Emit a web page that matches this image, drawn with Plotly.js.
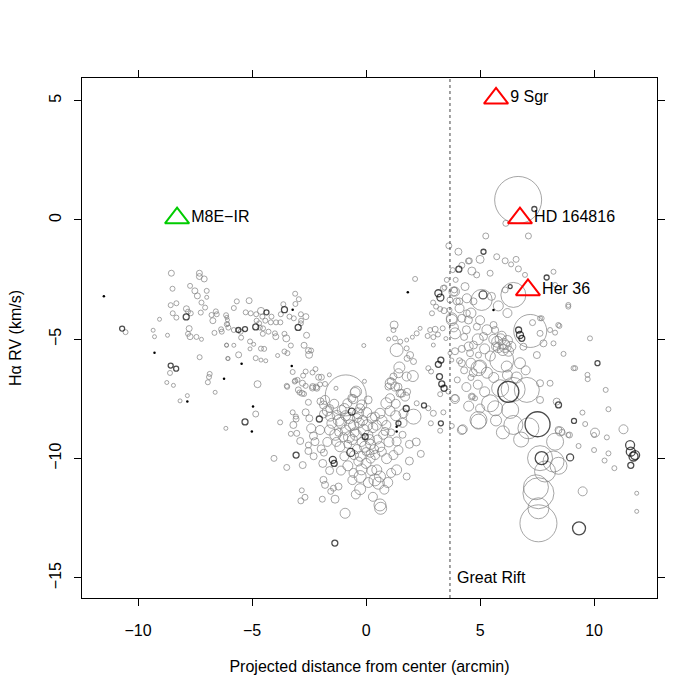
<!DOCTYPE html>
<html><head><meta charset="utf-8">
<script src="https://cdn.plot.ly/plotly-3.0.1.min.js"></script>
<style>body{margin:0;background:#fff}#plot{width:700px;height:700px}</style>
</head><body><div id="plot"></div>
<script>
// [x (arcmin), Hα RV (km/s), amplitude]
const grayPts = [
[-10.55,-4.7,4],
[-8.54,-2.23,5],[-7.31,-2.23,5],[-7.31,-2.37,5],[-7.1,-2.47,5],
[-8.49,-2.88,4],[-7.72,-2.76,4],[-7.51,-2.97,5],[-7.4,-3.18,5],[-6.99,-2.97,4],[-6.99,-3.24,3],
[-7.22,-3.46,4],[-7.06,-3.67,4],[-8.57,-3.57,4],[-8.32,-3.49,4],
[-8.48,-3.91,4],[-8.32,-4.09,4],[-7.88,-3.72,5],[-7.81,-3.84,4],[-7.69,-3.91,4],[-7.25,-3.88,4],
[-6.78,-3.98,4],[-6.59,-3.83,4],[-6.55,-3.95,4],[-6.72,-4.22,5],
[-6.14,-3.99,4],[-6.08,-4.19,3],[-6.11,-4.37,4],[-6.04,-4.51,4],
[-6.36,-4.58,4],[-6.33,-4.68,4],[-6.65,-4.73,4],
[-9.06,-4.16,3],[-9.34,-4.62,3],[-9.28,-4.89,3],[-8.71,-4.83,3],
[-7.76,-4.55,5],[-7.81,-4.77,4],[-7.72,-4.89,5],[-7.44,-4.9,4],[-7.22,-5.0,3],
[-6.12,-5.24,3],[-6.07,-5.8,3],[-7.3,-5.75,4],
[-8.6,-6.41,4],[-8.74,-6.81,3],[-8.45,-6.93,3],
[-6.86,-6.45,4],[-6.89,-6.58,4],[-6.94,-6.8,4],
[-6.62,-7.22,3],[-7.84,-7.36,3],[-8.16,-7.58,3],
[-3.11,-3.09,4],[-2.95,-3.32,4],[-3.1,-3.52,4],
[-5.67,-3.41,4],[-5.13,-3.38,5],[-5.8,-3.69,4],[-3.63,-3.53,4],
[-5.28,-3.87,4],[-5.06,-3.91,4],[-4.82,-3.95,4],[-4.61,-3.81,6],[-4.55,-4.05,4],
[-4.15,-4.05,4],[-3.74,-3.95,4],[-3.36,-4.05,4],[-3.17,-4.12,4],
[-2.86,-3.95,4],[-2.64,-4.05,5],[-2.85,-4.22,4],[-2.86,-4.33,4],
[-4.8,-4.22,4],[-4.69,-4.33,4],[-4.42,-4.22,4],[-4.18,-4.29,4],[-3.95,-4.29,4],[-3.76,-4.29,4],
[-6.11,-4.08,3],[-6.07,-4.36,3],[-4.66,-4.51,4],[-4.52,-4.54,4],
[-5.8,-4.61,4],[-5.5,-4.68,4],
[-4.28,-4.68,4],[-4.0,-4.75,4],[-3.96,-4.89,5],[-3.58,-4.77,4],[-3.5,-4.96,6],
[-2.61,-4.83,5],[-4.53,-4.77,4],
[-5.48,-4.93,4],[-5.09,-5.09,4],[-4.93,-5.21,3],
[-3.3,-5.26,4],[-2.72,-5.25,5],
[-2.53,-5.47,5],[-2.41,-5.47,4],[-2.5,-5.65,6],
[-6.12,-5.25,3],[-5.8,-5.25,3],
[-4.61,-5.39,4],[-4.47,-5.4,4],[-5.09,-5.4,3],
[-3.58,-5.51,4],[-3.45,-5.58,4],[-3.88,-5.68,3],[-5.59,-5.65,5],
[-6.05,-5.81,3],[-4.84,-5.79,4],[-4.61,-5.87,3],[-4.4,-5.9,3],
[-3.22,-6.37,4],[-0.1,-5.26,3],[-0.07,-6.76,3],
[-2.65,-6.35,4],[-2.35,-6.39,4],[-2.22,-6.25,4],
[-2.76,-6.52,4],[-3.01,-6.7,4],[-3.13,-6.77,4],[-2.08,-6.59,5],[-1.96,-6.59,5],[-1.61,-6.49,3],
[-4.76,-6.88,6],[-3.46,-6.99,4],
[-2.35,-7.04,5],[-2.19,-7.0,5],[-2.02,-6.89,4],[-1.8,-6.87,4],
[-2.97,-7.12,5],[-2.92,-7.23,4],[-2.72,-7.29,4],
[-0.89,-7.35,40],
[-4.84,-8.13,5],[-3.08,-8.24,4],[-1.32,-7.05,3],
[-0.48,-7.23,9],[-0.63,-7.47,7],[-0.19,-7.75,9],[0.09,-7.54,7],
[-3.48,-6.95,4],[-3.11,-6.73,4],[-2.79,-6.84,5],[-2.65,-6.95,4],[-2.81,-7.26,5],
[-2.34,-6.98,5],[-2.16,-7.05,5],[-0.44,-7.19,10],[-0.56,-7.51,8],
[-1.8,-7.54,8],[-1.87,-7.75,7],[-2.0,-7.6,6],
[-2.53,-7.64,5],[-3.22,-8.06,4],[-3.77,-8.48,4],[-3.07,-8.34,5],[-3.19,-8.59,6],[-3.04,-8.94,5],[-3.3,-8.96,4],[-2.89,-9.26,6],
[-2.65,-8.06,6],[-6.15,-8.73,3],
[-2.49,-8.31,6],[-2.41,-8.73,8],[-2.31,-9.05,7],[-2.02,-8.8,8],[-2.24,-9.29,7],
[-2.53,-9.43,5],[-1.97,-9.59,7],[-1.85,-9.75,6],
[-1.87,-8.13,7],[-1.6,-7.9,7],[-1.58,-8.24,8],[-1.5,-8.52,9],
[-1.29,-8.17,8],[-1.07,-7.96,8],[-0.82,-7.68,8],[-0.26,-7.89,8],[0.03,-8.07,9],[0.39,-8.24,8],[0.61,-8.1,9],
[0.89,-7.68,10],[1.05,-7.47,8],[1.08,-6.84,10],[1.27,-6.98,8],[1.42,-6.42,8],[1.78,-6.56,8],
[1.49,-7.26,7],[1.71,-7.4,8],[1.64,-8.1,8],
[0.89,-8.59,8],[0.83,-8.86,7],[1.1,-8.9,6],
[-1.1,-8.5,10],[-0.9,-8.8,9],[-0.7,-8.6,10],[-0.5,-8.9,8],[-0.3,-8.5,9],[-0.1,-8.8,10],[0.1,-9.0,8],[0.3,-8.7,9],
[-1.0,-9.1,8],[-0.6,-9.2,9],[-0.2,-9.3,8],[0.2,-9.4,9],[-1.2,-8.9,7],[-0.8,-9.4,7],[-0.4,-9.6,8],[0.0,-9.7,7],
[0.5,-9.2,8],[-1.3,-9.3,8],[-0.9,-8.2,9],[-0.4,-8.3,8],[-0.53,-9.85,8],
[-1.7,-8.0,9],[-1.4,-7.7,8],[-1.2,-8.4,10],[-0.95,-7.9,9],[-0.75,-8.3,10],[-0.55,-8.6,9],[-0.35,-8.1,10],[-0.15,-8.4,9],
[0.05,-8.6,10],[0.25,-8.3,9],[0.45,-8.6,9],[0.7,-8.4,9],
[-1.6,-8.8,9],[-1.35,-9.0,10],[-1.15,-9.5,9],[-0.95,-9.9,8],[-0.75,-9.1,10],[-0.45,-9.0,10],[-0.25,-9.9,9],[-0.05,-9.5,10],
[0.15,-9.2,9],[0.35,-9.6,8],[0.6,-9.5,9],[0.75,-9.0,8],
[-1.7,-9.3,8],[-1.6,-10.5,7],[-1.1,-10.5,8],[-0.8,-10.3,9],[-0.55,-10.6,8],[0.25,-10.5,9],[0.1,-11.0,9],[-0.45,-11.5,8],
[0.3,-11.6,8],[0.8,-11.3,8],[1.1,-10.6,8],[0.95,-11.0,9],
[1.3,-8.2,9],[1.6,-8.5,8],[1.05,-8.0,9],[1.3,-7.7,8],[2.2,-9.3,7],[2.4,-9.8,6],[1.9,-10.1,7],
[-4.04,-9.99,5],[-3.48,-10.37,5],[-2.78,-10.27,6],[-2.53,-9.68,6],[-2.3,-9.9,6],[-1.9,-10.2,7],
[0.0,-10.2,9],[0.2,-10.0,8],[-0.34,-10.12,8],[-0.2,-10.45,10],
[-0.26,-10.75,11],[-0.26,-11.28,10],[-0.6,-10.9,8],
[-1.87,-10.89,6],[-1.8,-11.1,6],[-1.43,-11.24,5],[-1.21,-11.17,6],[-1.55,-11.37,5],[-1.36,-11.7,7],
[-2.82,-11.33,4],[-2.68,-11.62,5],[-2.86,-11.77,5],[-1.92,-11.7,5],[-0.92,-12.29,9],
[0.61,-11.94,11],[0.64,-12.08,11],[0.39,-10.89,11],[0.54,-11.03,11],[0.61,-10.75,10],[0.47,-10.47,9],
[0.18,-9.78,7],[0.4,-9.85,8],[0.69,-9.71,8],[0.9,-10.0,9],[1.2,-9.85,8],[1.34,-10.47,9],[1.78,-10.75,6],
[1.42,-9.64,8],[1.34,-9.28,8],[1.0,-9.3,9],[1.6,-9.0,6],[1.9,-9.4,7],
[3.63,-1.08,5],[4.05,-1.33,6],[2.15,-2.47,4],
[3.39,-2.86,5],[2.94,-3.46,4],[3.07,-3.63,4],[3.25,-3.73,4],[3.42,-3.8,5],[3.66,-3.77,4],[2.89,-3.91,4],
[3.9,-3.0,8],[4.09,-3.41,6],[3.76,-4.19,10],[3.9,-4.75,10],[3.85,-4.5,8],
[2.81,-4.61,4],[3.03,-4.58,5],[3.36,-4.54,4],[2.7,-4.86,4],[2.95,-4.91,4],[3.15,-4.8,4],
[2.37,-4.54,3],[2.22,-4.75,4],[2.03,-4.91,3],[1.78,-5.03,3],[3.5,-4.97,3],
[1.23,-4.4,7],[1.2,-4.61,4],[0.99,-4.99,3],[1.27,-4.96,4],[1.5,-5.1,4],
[2.95,-5.24,3],[1.34,-5.45,12],[1.78,-5.38,4],
[1.93,-5.66,6],[2.08,-5.93,5],[1.8,-5.8,5],
[3.68,-5.58,3],[3.76,-5.87,3],[2.73,-6.21,4],[2.85,-6.35,4],
[1.46,-6.18,10],[2.05,-6.54,10],[1.2,-6.56,6],[1.08,-6.77,6],[0.98,-6.98,6],[1.4,-7.0,7],[1.56,-7.26,7],[1.8,-7.2,6],
[3.61,-7.19,4],[3.25,-7.3,4],[3.9,-7.5,8],[4.64,-7.4,6],[4.93,-6.21,14],
[2.22,-7.68,4],[2.73,-7.89,4],[2.95,-8.1,5],[3.25,-8.83,4],[2.84,-8.52,4],
[2.08,-8.24,14],[4.2,-8.8,8],[4.93,-8.45,14],
[6.67,0.84,46],
[5.25,-0.67,5],[7.12,-0.67,5],[6.13,-0.14,5],
[5.0,-1.65,7],[4.49,-1.72,5],[4.53,-1.71,5],
[5.73,-1.54,5],[6.1,-1.71,5],[6.36,-1.86,4],[6.58,-1.65,5],[6.68,-2.05,5],
[4.64,-2.14,7],[4.85,-2.3,5],[5.44,-2.23,5],[3.93,-2.51,4],[3.54,-2.51,4],[6.97,-2.3,4],[8.22,-2.17,4],[8.29,-2.72,4],
[3.44,-2.83,4],[3.87,-2.93,5],[4.34,-2.79,7],[6.1,-2.93,5],[3.83,-3.0,8],[4.2,-1.9,5],[3.8,-2.1,4],
[5.07,-3.35,20],[6.46,-3.14,24],
[3.68,-3.35,5],[3.98,-3.41,6],[4.42,-3.28,8],[4.71,-3.41,6],
[3.76,-4.12,10],[4.42,-3.91,6],[4.2,-4.12,7],[4.49,-4.19,7],[4.86,-4.47,6],[5.59,-4.4,6],[5.66,-4.61,6],
[7.2,-4.65,32],
[7.63,-4.75,5],[8.07,-4.61,4],[8.43,-4.4,4],[8.22,-5.17,4],[7.63,-4.12,4],[7.3,-4.3,5],
[5.6,-5.0,9],[5.75,-5.1,10],[5.9,-5.0,10],[6.05,-5.2,10],[6.2,-5.05,9],[6.35,-5.3,9],[5.8,-5.35,9],
[6.0,-5.45,10],[6.25,-5.5,9],[5.7,-5.3,8],[6.1,-5.3,11],[5.95,-4.85,8],
[5.15,-4.88,7],[4.71,-5.24,7],[4.56,-5.58,6],[4.93,-5.66,5],[5.0,-6.14,12],
[5.95,-5.87,23],[6.17,-6.14,10],[6.75,-6.0,10],[7.49,-5.66,6],[6.9,-5.31,6],
[3.9,-5.5,6],[4.1,-5.9,5],[4.3,-6.3,6],[4.6,-6.6,5],
[4.3,-4.9,6],[4.5,-5.3,8],[4.2,-6.0,6],[4.7,-6.4,7],[4.4,-7.0,8],[4.0,-6.7,5],
[4.1,-3.7,8],[4.6,-3.9,9],[5.0,-4.2,8],[5.3,-4.6,9],[4.9,-5.0,10],[5.2,-5.4,9],[5.45,-5.7,9],[4.6,-6.0,9],
[5.3,-6.4,10],[5.6,-6.6,9],[4.9,-6.9,8],[5.2,-7.2,9],[4.5,-7.8,9],[5.0,-7.9,8],[5.7,-8.4,10],[6.0,-8.9,12],
[6.8,-9.2,14],[6.2,-6.5,9],[6.6,-6.6,10],[7.0,-6.3,8],[5.5,-3.2,7],[5.8,-3.6,9],[6.2,-3.9,8],[4.4,-4.6,7],[4.2,-5.4,6],
[5.88,-7.05,16],[6.45,-7.1,23],[7.05,-7.12,24],[7.63,-6.84,6],[8.07,-6.84,5],[7.63,-7.54,6],
[5.44,-7.68,16],[5.66,-7.89,14],[6.32,-7.96,16],[4.93,-8.38,16],[6.46,-8.59,18],[7.12,-8.73,20],
[3.9,-7.47,6],[4.78,-7.47,4],[4.65,-7.4,4],[4.24,-8.77,8],[3.39,-8.06,4],[3.76,-8.63,4],
[8.36,-7.61,6],[9.49,-8.07,4],[9.61,-8.55,4],[9.32,-9.47,4],
[8.44,-8.8,6],[8.6,-8.9,5],[8.87,-9.01,4],[8.29,-9.29,16],
[7.63,-9.98,24],[8.22,-10.12,20],[8.44,-10.3,16],[7.85,-10.54,20],
[7.56,-11.45,30],[7.56,-12.08,20],[7.56,-12.71,36],[7.45,-11.2,24],
[9.5,-11.37,8],
[8.87,-3.63,4],[7.7,-4.12,4],[7.78,-5.17,6],[8.29,-4.72,4],[8.48,-4.44,4],[9.82,-4.96,4],[8.66,-5.61,4],
[9.17,-6.21,4],[9.71,-6.49,4],[9.72,-6.67,4],[10.51,-7.12,4],[10.63,-7.93,4],[11.29,-8.77,8],[10.04,-8.91,8],
[10.56,-9.11,4],[10.0,-9.64,4],[10.63,-9.78,4],[10.46,-10.08,4],[10.89,-10.4,4],[11.87,-11.45,3],[11.87,-12.21,3],
[8.51,-8.86,8],[8.92,-9.01,5],[10.0,-9.01,4],[8.87,-3.56,4],[9.1,-6.21,4]
];
const blackPts = [
[-10.7,-4.55,4],[-7.89,-4.06,5],[-8.57,-6.1,4],[-8.33,-6.23,4],
[-3.58,-3.76,5],[-4.37,-3.87,4],[-4.84,-4.48,5],[-5.31,-4.57,4],[-5.6,-4.61,4],[-2.98,-4.5,5],
[-0.63,-8.03,6],[-5.31,-8.46,5],
[-0.67,-9.74,7],[-1.46,-10.05,6],[-1.4,-10.2,5],[-3.07,-9.85,5],[-2.05,-8.34,5],[-1.37,-13.54,5],
[1.76,-7.9,5],[1.42,-8.52,4],[-0.04,-9.08,5],
[4.07,-2.06,5],[3.17,-3.07,6],[3.26,-3.25,6],[3.28,-5.87,5],[3.17,-6.05,5],[3.22,-6.56,5],[3.32,-6.87,5],[3.42,-7.05,5],
[2.54,-7.77,4],[3.28,-8.52,4],
[7.38,0.46,4],[5.15,-1.33,4],[7.92,-2.41,4],[5.13,-3.14,7],[6.32,-2.79,3],
[6.69,-4.61,5],[6.75,-4.82,6],[6.83,-4.96,5],
[6.24,-7.2,20],[7.52,-8.56,24],[8.44,-7.75,5],[9.12,-8.42,4],[7.7,-9.98,12],[8.95,-9.95,6],[9.34,-12.92,12],
[10.15,-6.0,4],[11.58,-9.43,8],[11.61,-9.71,8],[11.73,-9.91,8],[11.8,-9.85,8],[11.61,-10.28,5]
];
const dotX = [-11.5,-9.28,-6.23,-7.84,-5.46,-3.22,-3.26,-4.96,-5.01,1.34,1.83,1.34,5.59];
const dotY = [-3.2,-5.56,-6.65,-7.61,-6.02,-3.76,-6.12,-7.82,-8.86,-8.86,-3.03,-8.66,-3.77];

const starNames = ["9 Sgr","HD 164816","Her 36"];
const starX = [5.7, 6.75, 7.1];
const starY = [5.1, 0.08, -2.93];
const ysoNames = ["M8E\u2212IR"];
const ysoX = [-8.29];
const ysoY = [0.08];
const riftX = 3.68;

const col = (a,i)=>a.map(p=>p[i]);
const diam = a=>a.map(p=>p[2]+1);
const traces = [
 {x:col(grayPts,0), y:col(grayPts,1), mode:'markers', type:'scatter',
  marker:{symbol:'circle-open', size:diam(grayPts), sizemode:'diameter', color:'#808080', line:{width:1, color:'#808080'}}, hoverinfo:'skip'},
 {x:col(blackPts,0), y:col(blackPts,1), mode:'markers', type:'scatter',
  marker:{symbol:'circle-open', size:diam(blackPts), sizemode:'diameter', color:'#000', line:{width:1.3, color:'#000'}}, hoverinfo:'skip'},
 {x:dotX, y:dotY, mode:'markers', type:'scatter', marker:{symbol:'circle', size:2.5, color:'#000'}},
 {x:starX, y:starY, text:starNames, mode:'markers+text', type:'scatter', textposition:'middle right',
  textfont:{size:16, color:'#000', family:'Liberation Sans, Arial, sans-serif'},
  marker:{symbol:'triangle-up-open', size:21, color:'#ff0000', line:{width:2, color:'#ff0000'}}},
 {x:ysoX, y:ysoY, text:ysoNames, mode:'markers+text', type:'scatter', textposition:'middle right',
  textfont:{size:16, color:'#000', family:'Liberation Sans, Arial, sans-serif'},
  marker:{symbol:'triangle-up-open', size:21, color:'#00cc00', line:{width:2, color:'#00cc00'}}}
];
const axisCommon = {showgrid:false, zeroline:false, showline:true, mirror:'ticks', linecolor:'#000', linewidth:1,
  ticks:'outside', ticklen:7, tickcolor:'#000', tickwidth:1, tickfont:{size:16, color:'#000'}};
const layout = {
 width:700, height:700, showlegend:false, paper_bgcolor:'#fff', plot_bgcolor:'#fff',
 font:{family:'Liberation Sans, Arial, sans-serif', size:16, color:'#000'},
 margin:{l:82, r:43, t:78, b:102},
 xaxis:Object.assign({}, axisCommon, {range:[-12.46,12.76], tickvals:[-10,-5,0,5,10], ticklabelstandoff:11,
   title:{text:'Projected distance from center (arcmin)', font:{size:16}, standoff:22}}),
 yaxis:Object.assign({}, axisCommon, {range:[-15.84,5.95], tickvals:[-15,-10,-5,0,5], tickangle:-90, ticklabelstandoff:7,
   title:{text:'H\u03b1 RV (km/s)', font:{size:16}, standoff:20}}),
 shapes:[{type:'line', xref:'x', yref:'paper', x0:riftX, x1:riftX, y0:0, y1:1, line:{color:'#444', width:1, dash:'dot'}}],
 annotations:[{x:riftX, y:-15.0, xref:'x', yref:'y', text:'Great Rift', showarrow:false, xanchor:'left', yanchor:'middle', xshift:5, font:{size:16, color:'#000'}}]
};
Plotly.newPlot('plot', traces, layout, {staticPlot:true, displayModeBar:false});
</script></body></html>
